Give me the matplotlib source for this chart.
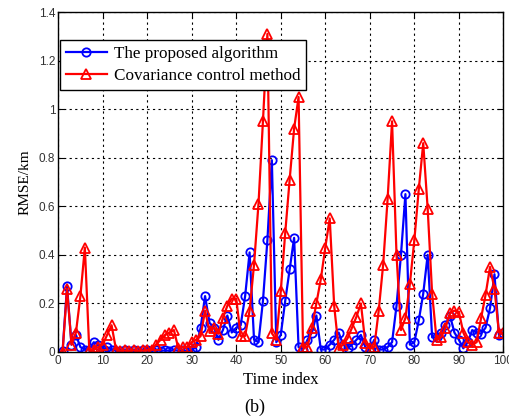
import matplotlib
matplotlib.use("Agg")
import matplotlib.pyplot as plt
from matplotlib.ticker import FormatStrFormatter

time_index = list(range(1, 101))

proposed = [0.005, 0.27, 0.03, 0.07, 0.02, 0.01, 0.01, 0.04, 0.03, 0.01,
            0.02, 0.01, 0.005, 0.005, 0.008, 0.005, 0.006, 0.005, 0.008, 0.006,
            0.005, 0.007, 0.005, 0.006, 0.005, 0.008, 0.005, 0.006, 0.005, 0.008,
            0.02, 0.10, 0.23, 0.12, 0.10, 0.05, 0.09, 0.15, 0.08, 0.10,
            0.11, 0.23, 0.41, 0.05, 0.04, 0.21, 0.46, 0.79, 0.04, 0.07,
            0.21, 0.34, 0.47, 0.02, 0.01, 0.05, 0.08, 0.15, 0.01, 0.01,
            0.03, 0.05, 0.08, 0.03, 0.015, 0.03, 0.05, 0.07, 0.02, 0.01,
            0.05, 0.01, 0.01, 0.02, 0.04, 0.19, 0.40, 0.65, 0.03, 0.04,
            0.13, 0.24, 0.40, 0.06, 0.06, 0.08, 0.11, 0.15, 0.08, 0.05,
            0.015, 0.04, 0.09, 0.08, 0.075, 0.10, 0.18, 0.32, 0.07, 0.08]

covariance = [0.0, 0.26, 0.03, 0.08, 0.23, 0.43, 0.005, 0.01, 0.02, 0.03,
              0.07, 0.11, 0.01, 0.005, 0.006, 0.005, 0.007, 0.005, 0.006, 0.008,
              0.01, 0.03, 0.05, 0.07, 0.08, 0.09, 0.015, 0.02, 0.02, 0.04,
              0.05, 0.065, 0.17, 0.085, 0.10, 0.075, 0.14, 0.19, 0.22, 0.22,
              0.065, 0.066, 0.17, 0.36, 0.61, 0.95, 1.31, 0.077, 0.05, 0.25,
              0.49, 0.71, 0.92, 1.05, 0.02, 0.02, 0.10, 0.20, 0.30, 0.43,
              0.55, 0.19, 0.015, 0.03, 0.056, 0.10, 0.145, 0.20, 0.035, 0.015,
              0.02, 0.17, 0.36, 0.63, 0.95, 0.40, 0.09, 0.14, 0.28, 0.46,
              0.67, 0.86, 0.59, 0.24, 0.05, 0.06, 0.10, 0.16, 0.17, 0.165,
              0.08, 0.04, 0.03, 0.04, 0.14, 0.235, 0.35, 0.26, 0.08, 0.077]

series_labels = ["The proposed algorithm", "Covariance control method"]
x_label = "Time index"
y_label = "RMSE/km"
caption = "(b)"

fig = plt.figure(figsize=(5.10, 4.16), dpi=100)
ax = fig.add_axes([0.114, 0.154, 0.873, 0.817])

serif = ["Liberation Serif", "DejaVu Serif"]
sans = ["Liberation Sans", "DejaVu Sans"]

ax.plot(time_index, proposed, color="#0000ff", lw=1.6, marker="o", ms=6,
        mfc="none", mec="#0000ff", mew=1.3, label=series_labels[0])
ax.plot(time_index, covariance, color="#ff0000", lw=1.6, marker="^", ms=6.5,
        mfc="none", mec="#ff0000", mew=1.3, label=series_labels[1])

ax.set_xlim(0, 100)
ax.set_ylim(0, 1.4)
ax.set_xticks(range(0, 101, 10))
ax.set_yticks([0, 0.2, 0.4, 0.6, 0.8, 1.0, 1.2, 1.4])
ax.yaxis.set_major_formatter(FormatStrFormatter("%g"))
ax.tick_params(direction="in", length=4, width=0.8, labelsize=8.5,
               colors="black", labelcolor="#333333", top=True, right=True,
               labeltop=False, labelright=False, pad=2)
for lab in ax.get_xticklabels() + ax.get_yticklabels():
    lab.set_family(sans)
ax.grid(True, color="black", linestyle=(0, (2, 3)), linewidth=0.8)
for s in ax.spines.values():
    s.set_linewidth(1.0)
    s.set_color("black")

ax.set_xlabel(x_label, fontsize=12, family=serif, labelpad=4)
ax.set_ylabel(y_label, fontsize=11, family=serif, labelpad=5)
fig.text(0.5, 0.022, caption, ha="center", va="center", fontsize=13, family=serif)

leg = ax.legend(loc="upper left", bbox_to_anchor=(0.004, 0.918), borderaxespad=0,
                prop={"family": serif, "size": 12.3}, fancybox=False, framealpha=1,
                edgecolor="black", handlelength=2.4, handletextpad=0.4,
                borderpad=0.35, labelspacing=0.35)
leg.get_frame().set_linewidth(1.0)

fig.savefig("out.png", dpi=100)
